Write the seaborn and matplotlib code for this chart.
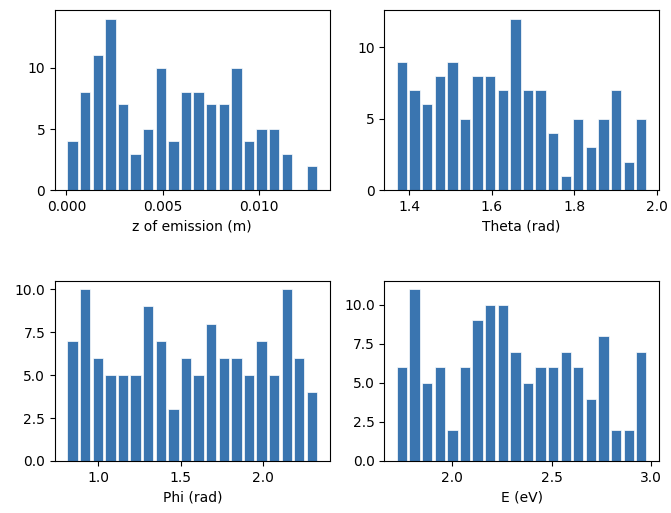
import numpy as np
import pandas as pd
import matplotlib
matplotlib.use("Agg")
import matplotlib.pyplot as plt
import seaborn as sns

# Bin ranges (min, max) and counts for each histogram (20 bins each)
z_range = (0.0, 0.01307)
z_counts = [4, 8, 11, 14, 7, 3, 5, 10, 4, 8, 8, 7, 7, 10, 4, 5, 5, 3, 0, 2]

theta_range = (1.367, 1.978)
theta_counts = [9, 7, 6, 8, 9, 5, 8, 8, 7, 12, 7, 7, 4, 1, 5, 3, 5, 7, 2, 5]

phi_range = (0.809, 2.331)
phi_counts = [7, 10, 6, 5, 5, 5, 9, 7, 3, 6, 5, 8, 6, 6, 5, 7, 5, 10, 6, 4]

e_range = (1.717, 2.983)
e_counts = [6, 11, 5, 6, 2, 6, 9, 10, 10, 7, 5, 6, 6, 7, 6, 4, 8, 2, 2, 7]

labels = ["z of emission (m)", "Theta (rad)", "Phi (rad)", "E (eV)"]

# Tick labels
z_xticks = ["0.000", "0.005", "0.010"]
theta_xticks = ["1.4", "1.6", "1.8", "2.0"]
phi_xticks = ["1.0", "1.5", "2.0"]
e_xticks = ["2.0", "2.5", "3.0"]
z_yticks = ["0", "5", "10"]
theta_yticks = ["0", "5", "10"]
phi_yticks = ["0.0", "2.5", "5.0", "7.5", "10.0"]
e_yticks = ["0.0", "2.5", "5.0", "7.5", "10.0"]

panels = [(z_range, z_counts, z_xticks, z_yticks),
          (theta_range, theta_counts, theta_xticks, theta_yticks),
          (phi_range, phi_counts, phi_xticks, phi_yticks),
          (e_range, e_counts, e_xticks, e_yticks)]

fig, axes = plt.subplots(2, 2, figsize=(6.71, 5.13), dpi=100)
fig.subplots_adjust(left=0.082, right=0.982, top=0.9805, bottom=0.1014,
                    wspace=0.2, hspace=0.5)

for ax, (rng, counts, xt, yt), label in zip(axes.flat, panels, labels):
    nb = len(counts)
    edges = np.linspace(rng[0], rng[1], nb + 1)
    centers = (edges[:-1] + edges[1:]) / 2
    df = pd.DataFrame({"x": centers, "w": counts})
    sns.histplot(data=df, x="x", weights="w", bins=nb, binrange=rng, ax=ax,
                 shrink=0.82, color="#3a75b0", alpha=1.0,
                 edgecolor="white", linewidth=0.5)
    ax.set_xlabel(label)
    ax.set_ylabel("")
    xlim = ax.get_xlim()
    ylim = ax.get_ylim()
    ax.set_xticks([float(t) for t in xt])
    ax.set_xticklabels(xt)
    ax.set_yticks([float(t) for t in yt])
    ax.set_yticklabels(yt)
    ax.set_xlim(xlim)
    ax.set_ylim(ylim)

fig.savefig("out.png", dpi=100)
